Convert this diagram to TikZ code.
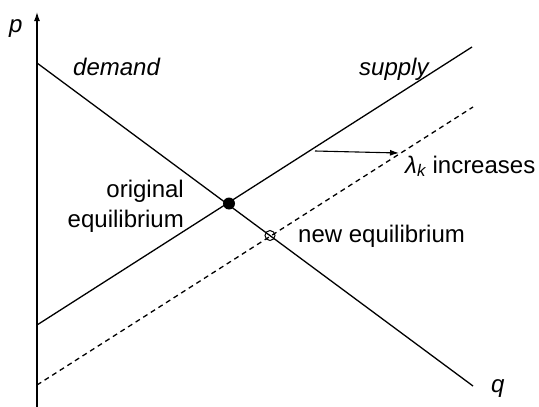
\documentclass[tikz,border=0pt]{standalone}
\usepackage{fontspec}
\setmainfont{Liberation Sans}
\usetikzlibrary{arrows.meta,positioning}
\begin{document}
\begin{tikzpicture}[x=1pt,y=-1pt,>={Latex[length=9pt,width=6pt]}]
\tikzset{curve/.style={line width=1.3pt},
  eqfull/.style={circle,fill=black,inner sep=0pt,minimum size=12pt},
  eqopen/.style={circle,draw,line width=1pt,inner sep=0pt,minimum size=10pt},
  lbl/.style={font=\fontsize{24}{30}\selectfont,inner sep=0pt},
  itlbl/.style={lbl,font=\fontsize{24}{30}\selectfont\itshape,anchor=base west}}
\useasboundingbox (0,0) rectangle (539,407);
\coordinate (origin) at (37,412);
\coordinate (ptop) at (37,12);
\coordinate (qend) at (516,412);
\draw[->,curve] (origin) -- (ptop);
\draw[->,curve] (origin) -- (qend);
\coordinate (demtop) at (37,63);
\coordinate (dembot) at (473,386);
\coordinate (suplo) at (37,325);
\coordinate (suphi) at (472,47);
\coordinate (newlo) at (37,385);
\coordinate (newhi) at (473,107);
\draw[curve] (demtop) -- (dembot);
\draw[curve] (suplo) -- (suphi);
\draw[curve,dash pattern=on 5pt off 4pt] (newlo) -- (newhi);
\node[eqfull] (origeq) at (229,203.5) {};
\node[eqopen] (neweq) at (270,235.5) {};
\coordinate (shiftfrom) at (315,151);
\coordinate (shiftto) at (399,153);
\draw[->,line width=1.1pt] (shiftfrom) -- (shiftto);
\node[itlbl] (plbl) at (9,32) {p};
\node[itlbl] (qlbl) at (491,392) {q};
\node[itlbl] (demlbl) at (73,75) {demand};
\node[itlbl] (suplbl) at (359,75) {supply};
\node[lbl,anchor=base west] (shiftlbl) at (405,173) {{\itshape λ\textsubscript{k}} increases};
\node[lbl,align=right,anchor=base east] (origlbl) at (184,227) {original\\equilibrium};
\node[lbl,anchor=base west] (newlbl) at (298,242) {new equilibrium};
\end{tikzpicture}
\end{document}
